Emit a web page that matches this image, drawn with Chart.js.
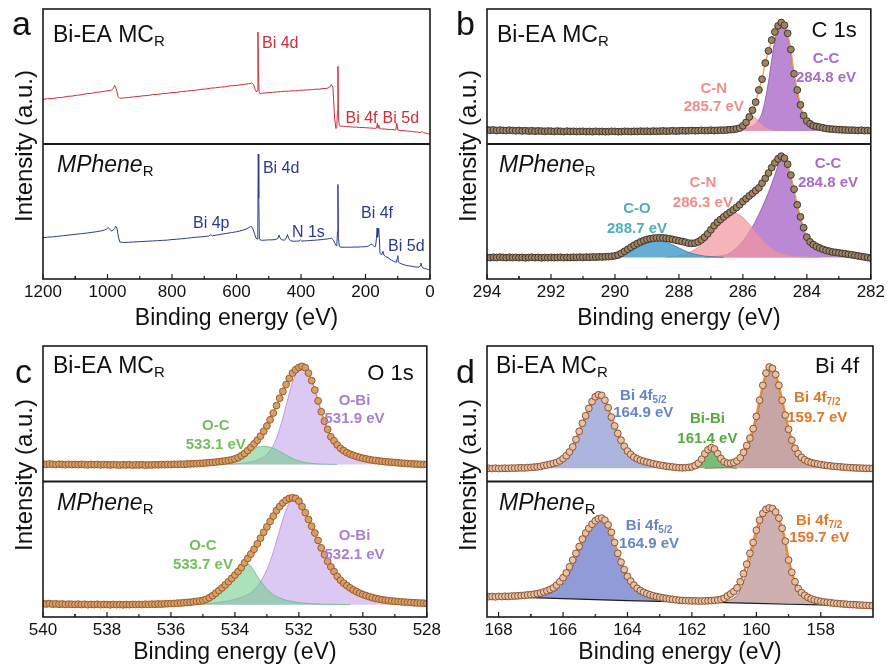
<!DOCTYPE html>
<html>
<head>
<meta charset="utf-8">
<title>XPS spectra</title>
<script src="https://cdn.jsdelivr.net/npm/chart.js@4.4.1/dist/chart.umd.min.js"></script>
<style>
  body { margin: 0; background: #fff; }
  #sheet { position: relative; width: 888px; height: 670px; overflow: hidden; }
  #sheet canvas { position: absolute; }
</style>
</head>
<body>
<div id="sheet">
  <canvas id="panelA" width="444" height="335" style="left:0;top:0"></canvas>
  <canvas id="panelB" width="444" height="335" style="left:444px;top:0"></canvas>
  <canvas id="panelC" width="444" height="335" style="left:0;top:335px"></canvas>
  <canvas id="panelD" width="444" height="335" style="left:444px;top:335px"></canvas>
</div>
<script>
const FONT = '"Liberation Sans", Arial, Helvetica, sans-serif';

// ---- survey spectra: [binding energy, normalised intensity] ----
const surveyBiEA = [[1200,0.330],[1185,0.336],[1170,0.337],[1155,0.343],[1140,0.345],[1125,0.353],[1110,0.355],[1095,0.361],[1080,0.365],[1065,0.373],[1050,0.375],[1035,0.383],[1020,0.386],[1005,0.393],[995,0.395],[988,0.40],[982,0.41],[978,0.435],[975,0.425],[971,0.39],[967,0.35],[962,0.338],[950,0.341],[935,0.344],[920,0.349],[905,0.352],[890,0.357],[875,0.359],[860,0.366],[845,0.367],[830,0.373],[815,0.375],[800,0.381],[785,0.382],[770,0.389],[755,0.391],[740,0.396],[725,0.399],[710,0.405],[695,0.407],[680,0.414],[665,0.416],[650,0.421],[635,0.424],[620,0.431],[605,0.432],[590,0.438],[575,0.441],[562,0.447],[553,0.452],[547,0.44],[542,0.405],[538,0.385],[535,0.40],[533.5,0.83],[532,0.55],[530,0.385],[527,0.372],[522,0.376],[512,0.377],[500,0.381],[488,0.382],[476,0.386],[464,0.387],[452,0.391],[440,0.391],[428,0.394],[416,0.394],[404,0.398],[392,0.399],[380,0.401],[368,0.402],[356,0.406],[344,0.406],[332,0.411],[320,0.412],[312,0.42],[306,0.44],[301,0.42],[296,0.20],[292,0.115],[289,0.12],[287,0.25],[285.5,0.575],[284,0.2],[281,0.135],[276,0.132],[268,0.131],[258,0.128],[248,0.128],[238,0.125],[228,0.125],[218,0.122],[208,0.122],[198,0.12],[188,0.119],[178,0.117],[170,0.116],[166,0.118],[163,0.155],[161,0.118],[159,0.14],[156,0.113],[150,0.112],[140,0.111],[130,0.108],[120,0.108],[110,0.105],[106,0.104],[103,0.155],[100,0.104],[96,0.102],[90,0.1],[80,0.099],[70,0.095],[60,0.094],[50,0.09],[40,0.089],[30,0.085],[24,0.092],[20,0.083],[14,0.081],[8,0.078],[4,0.075],[0,0.07]];
const surveyMPhene = [[1200,0.306],[1185,0.31],[1170,0.312],[1155,0.316],[1140,0.32],[1125,0.324],[1110,0.328],[1095,0.332],[1080,0.336],[1065,0.34],[1050,0.345],[1035,0.35],[1020,0.356],[1010,0.362],[1003,0.37],[998,0.38],[993,0.37],[988,0.355],[983,0.36],[978,0.375],[974,0.39],[970,0.37],[966,0.31],[962,0.275],[950,0.27],[935,0.272],[920,0.274],[905,0.276],[890,0.278],[875,0.28],[860,0.282],[845,0.284],[830,0.286],[815,0.288],[800,0.292],[785,0.295],[770,0.298],[755,0.302],[740,0.306],[725,0.31],[710,0.312],[695,0.316],[685,0.318],[680,0.33],[675,0.32],[660,0.326],[645,0.333],[630,0.338],[615,0.344],[600,0.35],[590,0.355],[580,0.362],[570,0.37],[562,0.38],[556,0.39],[552,0.385],[548,0.365],[544,0.335],[540,0.305],[536,0.295],[534,0.33],[532.5,0.925],[531,0.6],[529,0.3],[526,0.288],[520,0.287],[510,0.288],[500,0.29],[490,0.29],[480,0.292],[472,0.3],[468,0.325],[465,0.305],[460,0.29],[452,0.288],[446,0.3],[442,0.33],[438,0.3],[432,0.283],[424,0.28],[415,0.28],[406,0.281],[402,0.29],[398,0.281],[390,0.282],[380,0.284],[370,0.285],[360,0.287],[350,0.289],[340,0.291],[330,0.293],[320,0.296],[312,0.3],[306,0.303],[300,0.29],[296,0.27],[292,0.25],[289,0.245],[287,0.35],[285.5,0.70],[284,0.3],[281,0.24],[276,0.236],[266,0.235],[256,0.236],[246,0.235],[236,0.237],[226,0.236],[216,0.238],[206,0.239],[196,0.24],[190,0.245],[184,0.255],[180,0.258],[176,0.248],[172,0.238],[169,0.24],[166,0.3],[164,0.378],[163,0.35],[162,0.31],[160.5,0.35],[159,0.375],[157,0.3],[155,0.19],[150,0.18],[146,0.205],[143,0.178],[138,0.165],[130,0.158],[120,0.14],[110,0.128],[104,0.124],[102,0.15],[100,0.173],[98,0.125],[94,0.118],[88,0.112],[80,0.105],[72,0.1],[64,0.097],[56,0.094],[48,0.09],[40,0.088],[34,0.087],[30,0.098],[28,0.118],[26,0.096],[22,0.082],[16,0.078],[10,0.074],[5,0.07],[0,0.065]];

// ---- high resolution scans, 0.1 eV steps from the first energy downwards ----
const c1sStart = 294, o1sStart = 540, bi4fStart = 168.3, scanStep = 0.1;

const c1sBiEA = [
  0.105,0.102,0.104,0.100,0.103,0.101,0.099,0.102,0.100,0.098,
  0.100,0.097,0.099,0.096,0.098,0.095,0.097,0.096,0.094,0.096,
  0.095,0.093,0.096,0.094,0.092,0.095,0.093,0.094,0.092,0.093,
  0.094,0.092,0.093,0.091,0.094,0.092,0.093,0.091,0.092,0.094,
  0.093,0.091,0.092,0.094,0.093,0.092,0.094,0.093,0.095,0.094,
  0.095,0.093,0.096,0.094,0.095,0.097,0.095,0.096,0.098,0.096,
  0.097,0.099,0.097,0.098,0.100,0.098,0.099,0.101,0.099,0.100,
  0.102,0.100,0.101,0.103,0.102,0.104,0.106,0.108,0.112,0.118,
  0.135,0.160,0.200,0.250,0.310,0.400,0.480,0.600,0.690,0.770,
  0.830,0.875,0.900,0.880,0.820,0.700,0.520,0.400,0.290,0.210,
  0.170,0.150,0.135,0.130,0.125,0.120,0.115,0.112,0.110,0.108,
  0.106,0.105,0.104,0.102,0.103,0.101,0.100,0.102,0.099,0.100,0.098
];
const c1sMPhene = [
  0.160,0.158,0.161,0.159,0.162,0.160,0.158,0.161,0.159,0.160,
  0.158,0.160,0.157,0.159,0.161,0.158,0.160,0.157,0.159,0.158,
  0.160,0.158,0.159,0.161,0.158,0.160,0.159,0.161,0.160,0.162,
  0.160,0.162,0.161,0.163,0.162,0.164,0.163,0.165,0.166,0.168,
  0.172,0.178,0.190,0.205,0.220,0.235,0.250,0.263,0.275,0.285,
  0.293,0.298,0.302,0.304,0.305,0.304,0.302,0.298,0.293,0.288,
  0.283,0.278,0.273,0.266,0.264,0.266,0.275,0.290,0.310,0.335,
  0.365,0.395,0.420,0.440,0.460,0.478,0.495,0.512,0.530,0.550,
  0.575,0.595,0.615,0.635,0.655,0.675,0.710,0.745,0.785,0.825,
  0.860,0.890,0.910,0.895,0.850,0.770,0.665,0.550,0.460,0.380,
  0.310,0.275,0.255,0.240,0.230,0.220,0.212,0.206,0.200,0.197,
  0.194,0.190,0.187,0.183,0.179,0.175,0.171,0.167,0.163,0.159,0.155
];
const o1sBiEA = [
  0.128,0.126,0.129,0.127,0.125,0.128,0.126,0.124,0.127,0.125,
  0.126,0.124,0.127,0.125,0.123,0.126,0.124,0.126,0.123,0.125,
  0.124,0.122,0.125,0.123,0.121,0.124,0.122,0.124,0.121,0.123,
  0.122,0.124,0.121,0.123,0.122,0.124,0.123,0.125,0.124,0.126,
  0.125,0.127,0.126,0.128,0.127,0.129,0.130,0.131,0.132,0.134,
  0.135,0.137,0.139,0.141,0.143,0.146,0.149,0.152,0.156,0.160,
  0.167,0.176,0.190,0.207,0.228,0.252,0.278,0.305,0.335,0.370,
  0.410,0.455,0.505,0.560,0.615,0.665,0.715,0.760,0.800,0.825,
  0.842,0.850,0.840,0.800,0.745,0.675,0.595,0.515,0.445,0.385,
  0.330,0.300,0.270,0.245,0.228,0.213,0.202,0.193,0.185,0.178,
  0.172,0.167,0.162,0.158,0.155,0.152,0.149,0.146,0.144,0.142,
  0.140,0.138,0.136,0.134,0.132,0.131,0.129,0.128,0.127,0.126,0.125
];
const o1sMPhene = [
  0.098,0.096,0.099,0.095,0.097,0.094,0.096,0.093,0.095,0.094,
  0.093,0.095,0.092,0.094,0.091,0.093,0.092,0.094,0.091,0.093,
  0.092,0.090,0.093,0.091,0.092,0.090,0.092,0.091,0.093,0.092,
  0.093,0.092,0.094,0.093,0.095,0.094,0.096,0.095,0.097,0.098,
  0.099,0.100,0.102,0.103,0.105,0.107,0.109,0.112,0.115,0.118,
  0.122,0.130,0.142,0.157,0.175,0.195,0.215,0.237,0.260,0.285,
  0.310,0.335,0.365,0.400,0.432,0.465,0.500,0.540,0.582,0.625,
  0.665,0.705,0.745,0.785,0.815,0.842,0.862,0.875,0.880,0.875,
  0.855,0.815,0.770,0.720,0.670,0.620,0.565,0.510,0.460,0.410,
  0.370,0.335,0.300,0.272,0.250,0.232,0.215,0.200,0.187,0.176,
  0.166,0.158,0.150,0.143,0.137,0.132,0.128,0.124,0.121,0.118,
  0.116,0.114,0.112,0.110,0.108,0.107,0.105,0.104,0.103,0.102,0.100
];
const bi4fBiEA = [
  0.097,0.096,0.098,0.096,0.097,0.098,0.097,0.099,0.098,0.100,
  0.101,0.100,0.102,0.104,0.106,0.108,0.111,0.118,0.122,0.127,
  0.133,0.140,0.152,0.168,0.190,0.218,0.255,0.310,0.370,0.430,
  0.485,0.540,0.590,0.625,0.640,0.635,0.600,0.545,0.475,0.410,
  0.355,0.305,0.260,0.225,0.200,0.180,0.167,0.157,0.150,0.143,
  0.137,0.131,0.126,0.121,0.117,0.113,0.110,0.107,0.104,0.102,
  0.101,0.102,0.104,0.108,0.118,0.135,0.165,0.205,0.235,0.250,
  0.240,0.205,0.170,0.145,0.135,0.135,0.140,0.152,0.175,0.215,
  0.265,0.320,0.390,0.480,0.600,0.710,0.800,0.845,0.835,0.790,
  0.710,0.600,0.490,0.385,0.305,0.245,0.205,0.178,0.160,0.148,
  0.140,0.134,0.129,0.125,0.121,0.118,0.115,0.112,0.110,0.108,
  0.106,0.104,0.102,0.101,0.100,0.099,0.098,0.097,0.097,0.096
];
const bi4fMPhene = [
  0.150,0.151,0.149,0.152,0.151,0.153,0.152,0.154,0.155,0.156,
  0.158,0.160,0.163,0.165,0.168,0.172,0.177,0.185,0.193,0.203,
  0.215,0.235,0.260,0.290,0.325,0.370,0.420,0.470,0.520,0.575,
  0.620,0.655,0.685,0.710,0.725,0.730,0.715,0.680,0.625,0.550,
  0.470,0.405,0.350,0.300,0.265,0.235,0.212,0.195,0.182,0.172,
  0.164,0.157,0.151,0.146,0.141,0.137,0.133,0.130,0.127,0.124,
  0.122,0.121,0.120,0.119,0.119,0.118,0.118,0.119,0.120,0.121,
  0.123,0.126,0.130,0.138,0.155,0.170,0.188,0.215,0.260,0.320,
  0.390,0.470,0.550,0.640,0.715,0.765,0.795,0.805,0.800,0.775,
  0.730,0.655,0.560,0.420,0.330,0.260,0.210,0.180,0.160,0.145,
  0.134,0.126,0.120,0.115,0.111,0.108,0.105,0.102,0.100,0.098,
  0.096,0.094,0.092,0.091,0.090,0.088,0.087,0.086,0.085,0.083
];

// ---- fitted components: [binding energy, intensity] ----
const c1sBiEA_CC = [[286.6,0.100],[286.2,0.106],[286.0,0.112],[285.8,0.125],[285.6,0.150],[285.5,0.180],[285.4,0.230],[285.3,0.330],[285.2,0.460],[285.1,0.620],[285.0,0.770],[284.9,0.855],[284.8,0.880],[284.7,0.865],[284.6,0.810],[284.5,0.680],[284.4,0.510],[284.3,0.375],[284.2,0.270],[284.1,0.200],[284.0,0.160],[283.8,0.130],[283.6,0.115],[283.3,0.106],[283.0,0.101],[282.6,0.098]];
const c1sBiEA_CN = [[286.5,0.097],[286.3,0.105],[286.1,0.125],[286.0,0.142],[285.9,0.165],[285.8,0.190],[285.7,0.205],[285.6,0.190],[285.5,0.165],[285.4,0.142],[285.3,0.125],[285.1,0.105],[284.9,0.097]];
const c1sMPhene_CO = [[290.4,0.161],[290.2,0.164],[290.0,0.170],[289.8,0.182],[289.6,0.200],[289.4,0.222],[289.2,0.245],[289.0,0.265],[288.8,0.280],[288.7,0.285],[288.6,0.283],[288.4,0.272],[288.2,0.253],[288.0,0.230],[287.8,0.208],[287.6,0.190],[287.4,0.178],[287.2,0.170],[287.0,0.165],[286.6,0.161]];
const c1sMPhene_CN = [[288.4,0.162],[288.2,0.165],[288.0,0.172],[287.8,0.185],[287.6,0.205],[287.4,0.235],[287.2,0.275],[287.0,0.325],[286.8,0.380],[286.6,0.435],[286.4,0.475],[286.3,0.490],[286.2,0.485],[286.0,0.455],[285.8,0.405],[285.6,0.345],[285.4,0.290],[285.2,0.245],[285.0,0.210],[284.8,0.190],[284.6,0.178],[284.4,0.170],[284.0,0.164],[283.6,0.161]];
const c1sMPhene_CC = [[287.2,0.162],[287.0,0.165],[286.6,0.175],[286.4,0.192],[286.2,0.230],[286.0,0.280],[285.8,0.350],[285.6,0.430],[285.4,0.530],[285.2,0.640],[285.0,0.770],[284.9,0.840],[284.8,0.895],[284.7,0.885],[284.6,0.830],[284.5,0.750],[284.4,0.645],[284.3,0.535],[284.2,0.445],[284.1,0.365],[284.0,0.305],[283.8,0.245],[283.6,0.215],[283.4,0.195],[283.2,0.183],[283.0,0.176],[282.6,0.168],[282.2,0.163],[282.0,0.162]];

const o1sBiEA_OC = [[535.0,0.126],[534.6,0.129],[534.4,0.135],[534.2,0.148],[534.0,0.165],[533.8,0.190],[533.6,0.218],[533.4,0.242],[533.2,0.257],[533.1,0.260],[533.0,0.258],[532.8,0.245],[532.6,0.222],[532.4,0.195],[532.2,0.170],[532.0,0.152],[531.8,0.140],[531.6,0.133],[531.2,0.128],[530.8,0.126]];
const o1sBiEA_OBi = [[535.0,0.126],[534.0,0.130],[533.6,0.140],[533.4,0.150],[533.2,0.168],[533.0,0.200],[532.9,0.228],[532.8,0.265],[532.7,0.320],[532.6,0.390],[532.5,0.470],[532.4,0.560],[532.3,0.650],[532.2,0.730],[532.1,0.790],[532.0,0.830],[531.9,0.850],[531.8,0.840],[531.7,0.800],[531.6,0.745],[531.5,0.675],[531.4,0.595],[531.3,0.515],[531.2,0.445],[531.1,0.385],[531.0,0.330],[530.8,0.265],[530.6,0.225],[530.4,0.197],[530.2,0.178],[530.0,0.165],[529.6,0.150],[529.2,0.140],[528.8,0.133],[528.4,0.128],[528.0,0.125]];
const o1sMPhene_OC = [[536.0,0.091],[535.6,0.095],[535.2,0.105],[535.0,0.115],[534.8,0.130],[534.6,0.155],[534.4,0.190],[534.2,0.240],[534.0,0.300],[533.9,0.335],[533.8,0.370],[533.7,0.400],[533.6,0.395],[533.5,0.375],[533.4,0.340],[533.3,0.300],[533.2,0.265],[533.0,0.205],[532.8,0.165],[532.6,0.140],[532.4,0.124],[532.2,0.113],[532.0,0.106],[531.6,0.098],[531.0,0.094],[530.4,0.092]];
const o1sMPhene_OBi = [[536.0,0.091],[535.0,0.095],[534.6,0.105],[534.2,0.120],[533.8,0.145],[533.6,0.165],[533.4,0.200],[533.2,0.260],[533.0,0.350],[532.9,0.410],[532.8,0.480],[532.7,0.560],[532.6,0.640],[532.5,0.720],[532.4,0.790],[532.3,0.840],[532.2,0.868],[532.1,0.870],[532.0,0.853],[531.9,0.815],[531.8,0.770],[531.7,0.720],[531.6,0.670],[531.5,0.620],[531.4,0.565],[531.3,0.510],[531.2,0.460],[531.1,0.410],[531.0,0.370],[530.8,0.300],[530.6,0.250],[530.4,0.215],[530.2,0.187],[530.0,0.166],[529.6,0.137],[529.2,0.121],[528.8,0.112],[528.4,0.105],[528.0,0.100]];

const bi4fBiEA_52 = [[167.6,0.097],[167.0,0.101],[166.6,0.110],[166.4,0.120],[166.2,0.135],[166.0,0.160],[165.8,0.205],[165.6,0.290],[165.4,0.410],[165.2,0.520],[165.0,0.605],[164.9,0.625],[164.8,0.620],[164.6,0.540],[164.4,0.405],[164.2,0.300],[164.0,0.220],[163.8,0.175],[163.6,0.150],[163.4,0.135],[163.0,0.117],[162.6,0.106],[162.2,0.100],[161.8,0.097]];
const bi4fBiEA_BiBi = [[162.0,0.097],[161.8,0.108],[161.7,0.135],[161.6,0.180],[161.5,0.222],[161.4,0.242],[161.3,0.232],[161.2,0.198],[161.1,0.158],[161.0,0.127],[160.8,0.104],[160.6,0.097]];
const bi4fBiEA_72 = [[161.6,0.097],[161.0,0.104],[160.8,0.113],[160.6,0.133],[160.4,0.185],[160.2,0.295],[160.0,0.455],[159.8,0.685],[159.7,0.785],[159.6,0.835],[159.5,0.825],[159.4,0.780],[159.2,0.590],[159.0,0.375],[158.8,0.235],[158.6,0.170],[158.4,0.140],[158.2,0.125],[157.8,0.110],[157.4,0.103],[157.0,0.099],[156.4,0.097]];
const bi4fMPhene_bg = [[168.36,0.149],[167.0,0.143],[166.0,0.136],[165.0,0.128],[164.0,0.121],[163.0,0.116],[162.0,0.111],[161.0,0.106],[160.0,0.100],[159.0,0.094],[158.0,0.089],[157.0,0.084],[156.38,0.081]];
const bi4fMPhene_52 = [[167.6,0.146],[167.0,0.147],[166.6,0.158],[166.4,0.172],[166.2,0.198],[166.0,0.242],[165.8,0.320],[165.6,0.430],[165.4,0.545],[165.2,0.630],[165.0,0.695],[164.9,0.715],[164.8,0.720],[164.6,0.670],[164.4,0.540],[164.2,0.395],[164.0,0.285],[163.8,0.215],[163.6,0.178],[163.4,0.158],[163.0,0.137],[162.6,0.125],[162.2,0.116],[161.8,0.110]];
const bi4fMPhene_72 = [[161.8,0.110],[161.2,0.112],[160.8,0.128],[160.6,0.160],[160.4,0.255],[160.2,0.415],[160.0,0.595],[159.8,0.735],[159.7,0.775],[159.6,0.792],[159.5,0.788],[159.4,0.762],[159.2,0.640],[159.0,0.410],[158.8,0.250],[158.6,0.170],[158.4,0.133],[158.2,0.113],[157.8,0.097],[157.4,0.090],[157.0,0.086],[156.4,0.082]];

// ---------------------------------------------------------------------------
function scan(start, values) {
  return values.map((v, i) => ({ x: +(start - i * scanStep).toFixed(2), y: v }));
}
function pairs(list) {
  return list.map(([x, y]) => ({ x, y }));
}

function survey(list, axis, color) {
  return { data: pairs(list), yAxisID: axis, order: 0, borderColor: color,
           borderWidth: 1, pointRadius: 0, fill: false, tension: 0 };
}
function measured(points, axis, s) {
  return { data: points, yAxisID: axis, order: 0, borderColor: s.line, borderWidth: s.lineWidth,
           pointRadius: 3.4, pointBorderWidth: 1, pointBackgroundColor: s.face,
           pointBorderColor: s.edge, fill: false, tension: 0 };
}
function peak(list, axis, face, edge, base, order) {
  return { data: pairs(list), yAxisID: axis, order: order || 2, borderColor: edge, borderWidth: 0.8,
           pointRadius: 0, backgroundColor: face, fill: base, cubicInterpolationMode: 'monotone' };
}

function drawParts(ctx, parts, x, y, align) {
  let w = 0;
  parts.forEach(p => { ctx.font = p.font; p.w = ctx.measureText(p.t).width; w += p.w; });
  let cx = align === 'center' ? x - w / 2 : align === 'right' ? x - w : x;
  ctx.textAlign = 'left';
  parts.forEach(p => { ctx.font = p.font; ctx.fillText(p.t, cx, y + (p.dy || 0)); cx += p.w; });
}

// frame, divider, inward ticks and all the lettering
const panelDecor = {
  id: 'panelDecor',
  afterDatasetsDraw(chart, args, o) {
    const { ctx, chartArea: a, scales } = chart;
    const xs = scales.x;
    ctx.save();
    ctx.strokeStyle = '#1b1b1b';
    ctx.lineWidth = 1.2;
    const majors = xs.ticks.map(t => t.value);
    const minors = majors.map(v => v + o.step / 2).concat([majors[0] - o.step / 2])
      .filter(v => v > xs.min && v < xs.max);
    const mark = (v, len) => {
      const px = xs.getPixelForValue(v);
      ctx.beginPath(); ctx.moveTo(px, a.bottom); ctx.lineTo(px, a.bottom - len); ctx.stroke();
    };
    majors.forEach(v => mark(v, 5));
    minors.forEach(v => mark(v, 3));
    ctx.lineWidth = 1.6;
    ctx.strokeRect(a.left, a.top, a.right - a.left, a.bottom - a.top);
    ctx.lineWidth = 2;
    const mid = scales.yTop.bottom;
    ctx.beginPath(); ctx.moveTo(a.left, mid); ctx.lineTo(a.right, mid); ctx.stroke();
    ctx.restore();
  },
  afterDraw(chart, args, o) {
    const { ctx, chartArea: a, scales } = chart;
    const xs = scales.x;
    ctx.save();
    ctx.fillStyle = '#111';
    ctx.textBaseline = 'alphabetic';

    ctx.font = `34px ${FONT}`;
    ctx.textAlign = 'left';
    ctx.fillText(o.letter, o.letterAt[0], o.letterAt[1]);

    ctx.save();
    ctx.translate(o.intensityAt[0], o.intensityAt[1]);
    ctx.rotate(-Math.PI / 2);
    ctx.font = `24px ${FONT}`;
    ctx.textAlign = 'center';
    ctx.fillText('Intensity (a.u.)', 0, 0);
    ctx.restore();

    o.names.forEach(n => {
      const x = a.left + n.dx, y = scales[n.axis].top + n.dy;
      drawParts(ctx, [
        { t: n.main, font: `${n.italic ? 'italic ' : ''}23px ${FONT}` },
        { t: n.sub, font: `15px ${FONT}`, dy: 4 }
      ], x, y, 'left');
    });

    if (o.title) {
      ctx.font = `22px ${FONT}`;
      ctx.textAlign = 'right';
      ctx.fillText(o.title.text, a.right - o.title.inset, a.top + o.title.dy);
    }

    o.labels.forEach(l => {
      const px = xs.getPixelForValue(l.x);
      const py = scales[l.axis].getPixelForValue(l.y);
      ctx.fillStyle = l.color;
      l.lines.forEach((line, i) => {
        const weight = l.bold ? 'bold ' : '';
        const parts = Array.isArray(line)
          ? [{ t: line[0], font: `${weight}${l.size}px ${FONT}` },
             { t: line[1], font: `${weight}${Math.round(l.size * 0.68)}px ${FONT}`, dy: 3 }]
          : [{ t: line, font: `${weight}${l.size}px ${FONT}` }];
        drawParts(ctx, parts, px, py + i * l.gap, l.align);
      });
    });
    ctx.restore();
  }
};

function makePanel(id, p) {
  return new Chart(document.getElementById(id).getContext('2d'), {
    type: 'line',
    data: { datasets: p.datasets },
    options: {
      responsive: false,
      animation: false,
      events: [],
      layout: { padding: p.padding },
      plugins: { legend: { display: false }, tooltip: { enabled: false }, panelDecor: p.decor },
      scales: {
        x: {
          type: 'linear', reverse: true, min: p.xMin, max: p.xMax,
          grid: { display: false, drawTicks: false },
          border: { display: false },
          ticks: { stepSize: p.step, includeBounds: false, padding: 3, maxRotation: 0, autoSkip: false,
                   color: '#111', font: { family: FONT, size: 17 }, callback: v => String(v) },
          title: { display: true, text: 'Binding energy (eV)', color: '#111',
                   font: { family: FONT, size: 23 }, padding: { top: 0, bottom: p.titlePad } },
          afterFit: s => { s.height = p.axisHeight; }
        },
        yBot: { type: 'linear', display: false, position: 'left', stack: 'pair', stackWeight: 1, weight: 1, min: 0, max: 1 },
        yTop: { type: 'linear', display: false, position: 'left', stack: 'pair', stackWeight: 1, weight: 2, min: 0, max: 1 }
      }
    },
    plugins: [panelDecor]
  });
}

const names = (d1, d2) => [
  { axis: 'yTop', main: 'Bi-EA MC', sub: 'R', italic: false, dx: d1[0], dy: d1[1] },
  { axis: 'yBot', main: 'MPhene', sub: 'R', italic: true, dx: d2[0], dy: d2[1] }
];

const c1sStyle = { line: '#e9a03c', lineWidth: 1.3, face: '#a08462', edge: '#3e3630' };
const o1sStyle = { line: '#e58a35', lineWidth: 1.3, face: '#d9a066', edge: '#9a5a2c' };
const bi4fStyle = { line: '#ec8a2e', lineWidth: 2.4, face: '#e6c2a2', edge: '#8c5232' };

const RED = '#c8303a', BLUE = '#2b3a8c';

// a: survey
makePanel('panelA', {
  xMin: 0, xMax: 1200, step: 200,
  padding: { left: 43, top: 9, right: 14, bottom: 0 }, axisHeight: 56, titlePad: 3,
  datasets: [survey(surveyBiEA, 'yTop', RED), survey(surveyMPhene, 'yBot', BLUE)],
  decor: {
    letter: 'a', letterAt: [12, 35], intensityAt: [32, 146], step: 200,
    names: names([10, 33], [14, 28]),
    labels: [
      { axis: 'yTop', x: 521, y: 0.711, lines: ['Bi 4d'], color: RED, size: 16, gap: 0, align: 'left' },
      { axis: 'yTop', x: 262, y: 0.156, lines: ['Bi 4f'], color: RED, size: 16, gap: 0, align: 'left' },
      { axis: 'yTop', x: 147, y: 0.156, lines: ['Bi 5d'], color: RED, size: 16, gap: 0, align: 'left' },
      { axis: 'yBot', x: 518, y: 0.785, lines: ['Bi 4d'], color: BLUE, size: 16, gap: 0, align: 'left' },
      { axis: 'yBot', x: 735, y: 0.378, lines: ['Bi 4p'], color: BLUE, size: 16, gap: 0, align: 'left' },
      { axis: 'yBot', x: 428, y: 0.311, lines: ['N 1s'], color: BLUE, size: 16, gap: 0, align: 'left' },
      { axis: 'yBot', x: 214, y: 0.452, lines: ['Bi 4f'], color: BLUE, size: 16, gap: 0, align: 'left' },
      { axis: 'yBot', x: 130, y: 0.207, lines: ['Bi 5d'], color: BLUE, size: 16, gap: 0, align: 'left' }
    ]
  }
});

// b: C 1s
makePanel('panelB', {
  xMin: 282, xMax: 294, step: 2,
  padding: { left: 43, top: 9, right: 15, bottom: 0 }, axisHeight: 56, titlePad: 3,
  datasets: [
    measured(scan(c1sStart, c1sBiEA), 'yTop', c1sStyle),
    measured(scan(c1sStart, c1sMPhene), 'yBot', c1sStyle),
    peak(c1sBiEA_CC, 'yTop', 'rgba(168,104,198,0.78)', '#8d4fae', { value: 0.097 }, 3),
    peak(c1sBiEA_CN, 'yTop', 'rgba(242,160,170,0.72)', '#d98a96', { value: 0.097 }, 2),
    peak(c1sMPhene_CC, 'yBot', 'rgba(168,104,198,0.78)', '#8d4fae', { value: 0.16 }, 4),
    peak(c1sMPhene_CN, 'yBot', 'rgba(242,150,160,0.72)', '#d98a96', { value: 0.16 }, 3),
    peak(c1sMPhene_CO, 'yBot', 'rgba(66,156,208,0.82)', '#2f7fb0', { value: 0.16 }, 2)
  ],
  decor: {
    letter: 'b', letterAt: [12, 35], intensityAt: [32, 146], step: 2,
    names: names([10, 33], [12, 28]),
    title: { text: 'C 1s', inset: 14, dy: 28 },
    labels: [
      { axis: 'yTop', x: 286.91, y: 0.378, lines: ['C-N', '285.7 eV'], color: '#f08c8c', bold: true, size: 15, gap: 18.5, align: 'center' },
      { axis: 'yTop', x: 283.4, y: 0.60, lines: ['C-C', '284.8 eV'], color: '#a86cc8', bold: true, size: 15, gap: 18.5, align: 'center' },
      { axis: 'yBot', x: 283.34, y: 0.822, lines: ['C-C', '284.8 eV'], color: '#a86cc8', bold: true, size: 15, gap: 19, align: 'center' },
      { axis: 'yBot', x: 287.25, y: 0.681, lines: ['C-N', '286.3 eV'], color: '#f08c8c', bold: true, size: 15, gap: 20, align: 'center' },
      { axis: 'yBot', x: 289.31, y: 0.489, lines: ['C-O', '288.7 eV'], color: '#4fb0b0', bold: true, size: 15, gap: 20, align: 'center' }
    ]
  }
});

// c: O 1s
makePanel('panelC', {
  xMin: 528, xMax: 540, step: 2,
  padding: { left: 43, top: 11, right: 14, bottom: 0 }, axisHeight: 53, titlePad: 4,
  datasets: [
    measured(scan(o1sStart, o1sBiEA), 'yTop', o1sStyle),
    measured(scan(o1sStart, o1sMPhene), 'yBot', o1sStyle),
    peak(o1sBiEA_OBi, 'yTop', 'rgba(198,168,236,0.62)', '#b08ad8', { value: 0.125 }, 3),
    peak(o1sBiEA_OC, 'yTop', 'rgba(110,205,140,0.58)', '#6bb884', { value: 0.125 }, 2),
    peak(o1sMPhene_OBi, 'yBot', 'rgba(198,168,236,0.62)', '#b08ad8', { value: 0.091 }, 3),
    peak(o1sMPhene_OC, 'yBot', 'rgba(110,205,140,0.58)', '#6bb884', { value: 0.091 }, 2)
  ],
  decor: {
    letter: 'c', letterAt: [15, 48], intensityAt: [32, 140], step: 2,
    names: names([10, 27], [14, 28]),
    title: { text: 'O 1s', inset: 13, dy: 34 },
    labels: [
      { axis: 'yTop', x: 530.26, y: 0.565, lines: ['O-Bi', '531.9 eV'], color: '#a77fd6', bold: true, size: 15, gap: 18.5, align: 'center' },
      { axis: 'yTop', x: 534.6, y: 0.38, lines: ['O-C', '533.1 eV'], color: '#72be5c', bold: true, size: 15, gap: 19, align: 'center' },
      { axis: 'yBot', x: 530.26, y: 0.568, lines: ['O-Bi', '532.1 eV'], color: '#a77fd6', bold: true, size: 15, gap: 19, align: 'center' },
      { axis: 'yBot', x: 535.0, y: 0.494, lines: ['O-C', '533.7 eV'], color: '#72be5c', bold: true, size: 15, gap: 18.5, align: 'center' }
    ]
  }
});

// d: Bi 4f
makePanel('panelD', {
  xMin: 156.38, xMax: 168.36, step: 2,
  padding: { left: 43, top: 11, right: 15, bottom: 0 }, axisHeight: 53, titlePad: 4,
  datasets: [
    measured(scan(bi4fStart, bi4fBiEA), 'yTop', bi4fStyle),
    { data: pairs(bi4fMPhene_bg), yAxisID: 'yBot', order: 1, borderColor: '#1e1e1e', borderWidth: 1.2,
      pointRadius: 0, fill: false, tension: 0 },
    measured(scan(bi4fStart, bi4fMPhene), 'yBot', bi4fStyle),
    peak(bi4fBiEA_52, 'yTop', 'rgba(132,146,206,0.68)', '#6e7fc0', { value: 0.097 }),
    peak(bi4fBiEA_BiBi, 'yTop', 'rgba(84,170,84,0.78)', '#3e8e3e', { value: 0.097 }),
    peak(bi4fBiEA_72, 'yTop', 'rgba(165,110,110,0.62)', '#8e5a5a', { value: 0.097 }),
    peak(bi4fMPhene_52, 'yBot', 'rgba(102,116,200,0.72)', '#5664b0', 1),
    peak(bi4fMPhene_72, 'yBot', 'rgba(178,128,128,0.62)', '#946262', 1)
  ],
  decor: {
    letter: 'd', letterAt: [12, 48], intensityAt: [32, 140], step: 2,
    names: names([9, 27], [12, 28]),
    title: { text: 'Bi 4f', inset: 14, dy: 27 },
    labels: [
      { axis: 'yTop', x: 163.51, y: 0.605, lines: [['Bi 4f', '5/2'], '164.9 eV'], color: '#6684c6', bold: true, size: 15, gap: 17, align: 'center' },
      { axis: 'yTop', x: 161.52, y: 0.43, lines: ['Bi-Bi', '161.4 eV'], color: '#58a83e', bold: true, size: 15, gap: 20, align: 'center' },
      { axis: 'yTop', x: 158.11, y: 0.585, lines: [['Bi 4f', '7/2'], '159.7 eV'], color: '#e07828', bold: true, size: 15, gap: 20, align: 'center' },
      { axis: 'yBot', x: 163.33, y: 0.642, lines: [['Bi 4f', '5/2'], '164.9 eV'], color: '#6684c6', bold: true, size: 15, gap: 18, align: 'center' },
      { axis: 'yBot', x: 158.05, y: 0.679, lines: [['Bi 4f', '7/2'], '159.7 eV'], color: '#e07828', bold: true, size: 15, gap: 17, align: 'center' }
    ]
  }
});
</script>
</body>
</html>
